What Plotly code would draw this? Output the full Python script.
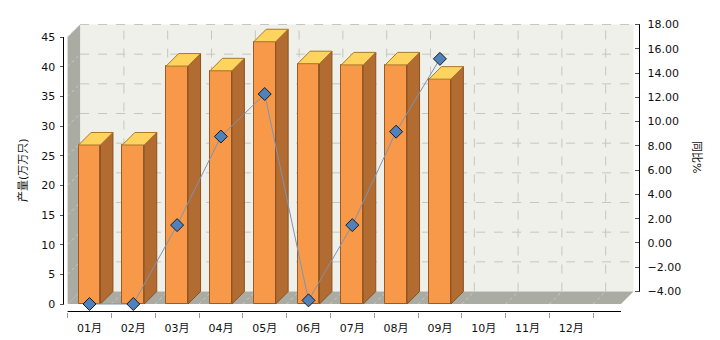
import plotly.graph_objects as go

# ---- data ----
months = ["01月", "02月", "03月", "04月", "05月", "06月", "07月", "08月", "09月", "10月", "11月", "12月"]
output_vals = [26.8, 26.8, 40.1, 39.3, 44.2, 40.5, 40.3, 40.3, 37.9]          # 产量(万万只)
yoy_vals = [-4.0, -4.0, 2.5, 9.8, 13.3, -3.7, 2.5, 10.2, 16.2]                # 同比%
left_ticks = [0, 5, 10, 15, 20, 25, 30, 35, 40, 45]
right_ticks = [-4, -2, 0, 2, 4, 6, 8, 10, 12, 14, 16, 18]

W, H = 720, 340
# pixel geometry of the front plane
X0, SX = 89.5, 43.8           # px of category 0 centre, px per category
Y0, SY = 304.0, 267.0 / 45    # px of value 0, px per left unit
D = 12.5                      # 3D depth in px
DX, DY = D / SX, D / SY
XE = (621 - X0) / SX          # front right edge of floor
L_MAX = 45
R_MIN, R_MAX = -4, 18
RS = (L_MAX * SY) / (R_MAX - R_MIN)   # px per right unit

xr = [(0 - X0) / SX, (W - X0) / SX]
yr = [(Y0 - H) / SY, Y0 / SY]
# right axis drawn on the back plane
yb0 = Y0 - D
y2r = [R_MIN - (H - yb0) / RS, R_MIN + yb0 / RS]
# line values plotted on the front plane
y3r = [R_MIN - (H - Y0) / RS, R_MIN + Y0 / RS]

FONT = "DejaVu Sans, Verdana, Noto Sans CJK SC, sans-serif"
n = len(output_vals)
xs = list(range(n))
BW = 0.25

fig = go.Figure()

# front faces
fig.add_trace(go.Bar(x=xs, y=output_vals, width=2 * BW, xaxis="x", yaxis="y",
                     marker=dict(color="#F8994A", line=dict(color="#9C5B22", width=1)),
                     hoverinfo="skip", showlegend=False))
# side and top faces
sx, sy = [], []
tx, ty = [], []
for i, v in zip(xs, output_vals):
    sx += [i + BW, i + BW + DX, i + BW + DX, i + BW, i + BW, None]
    sy += [0, DY, v + DY, v, 0, None]
    tx += [i - BW, i + BW, i + BW + DX, i - BW + DX, i - BW, None]
    ty += [v, v, v + DY, v + DY, v, None]
fig.add_trace(go.Scatter(x=sx, y=sy, mode="lines", fill="toself", fillcolor="#B26B30",
                         line=dict(color="#8A5120", width=1), hoverinfo="skip", showlegend=False))
fig.add_trace(go.Scatter(x=tx, y=ty, mode="lines", fill="toself", fillcolor="#FFD45E",
                         line=dict(color="#A8782A", width=1), hoverinfo="skip", showlegend=False))
# yoy line
fig.add_trace(go.Scatter(x=xs, y=yoy_vals, xaxis="x", yaxis="y3", mode="lines+markers",
                         line=dict(color="#7B93B8", width=1),
                         marker=dict(symbol="diamond", size=10, color="#4F81BD",
                                     line=dict(color="#1A1A1A", width=1)),
                         hoverinfo="skip", showlegend=False))
# dummy traces to anchor helper axes
fig.add_trace(go.Scatter(x=[0], y=[0], xaxis="x2", yaxis="y", mode="markers",
                         marker=dict(opacity=0), hoverinfo="skip", showlegend=False))
fig.add_trace(go.Scatter(x=[0], y=[0], xaxis="x", yaxis="y2", mode="markers",
                         marker=dict(opacity=0), hoverinfo="skip", showlegend=False))

shapes = []
WALL = "#AAACA4"
GRID = "#C6C6BF"
# back wall
shapes.append(dict(type="rect", xref="x", yref="y", x0=-0.5 + DX, x1=XE + DX, y0=DY, y1=L_MAX + DY,
                   fillcolor="#F0F0EA", line=dict(width=0), layer="below"))
# left wall
shapes.append(dict(type="path", xref="x", yref="y",
                   path=f"M{-0.5},0 L{-0.5 + DX},{DY} L{-0.5 + DX},{L_MAX + DY} L{-0.5},{L_MAX} Z",
                   fillcolor=WALL, line=dict(width=0), layer="below"))
# floor
shapes.append(dict(type="path", xref="x", yref="y",
                   path=f"M{-0.5},0 L{XE},0 L{XE + DX},{DY} L{-0.5 + DX},{DY} Z",
                   fillcolor=WALL, line=dict(width=0), layer="below"))
# horizontal grid on back wall + slants on left wall
for t in left_ticks[1:]:
    shapes.append(dict(type="line", xref="x", yref="y", x0=-0.5 + DX, x1=XE + DX, y0=t + DY, y1=t + DY,
                       line=dict(color=GRID, width=1, dash="dash"), layer="below"))
    shapes.append(dict(type="line", xref="x", yref="y", x0=-0.5, x1=-0.5 + DX, y0=t, y1=t + DY,
                       line=dict(color="#C9CAC4", width=1, dash="dot"), layer="below"))
# vertical grid on back wall + slants on floor
for i in range(1, len(months) + 1):
    b = i - 0.5
    shapes.append(dict(type="line", xref="x", yref="y", x0=b + DX, x1=b + DX, y0=DY, y1=L_MAX + DY,
                       line=dict(color=GRID, width=1, dash="dash"), layer="below"))
    shapes.append(dict(type="line", xref="x", yref="y", x0=b, x1=b + DX, y0=0, y1=DY,
                       line=dict(color="#CBCCC6", width=1, dash="dot"), layer="below"))
# axis lines
shapes.append(dict(type="line", xref="paper", yref="y", x0=63.5 / W, x1=63.5 / W, y0=0, y1=L_MAX,
                   line=dict(color="#000000", width=1)))
shapes.append(dict(type="line", xref="paper", yref="y2", x0=639.5 / W, x1=639.5 / W, y0=R_MIN, y1=R_MAX,
                   line=dict(color="#000000", width=1)))
shapes.append(dict(type="line", xref="x", yref="paper", x0=-0.5, x1=XE, y0=1 - 311.5 / H, y1=1 - 311.5 / H,
                   line=dict(color="#000000", width=1)))

tickfont = dict(family=FONT, size=11, color="#111111")
fig.update_layout(
    width=W, height=H, autosize=False,
    margin=dict(l=0, r=0, t=0, b=0, pad=0),
    paper_bgcolor="#FFFFFF", plot_bgcolor="#FFFFFF",
    showlegend=False, bargap=0,
    shapes=shapes,
    xaxis=dict(domain=[0, 1], range=xr, anchor="free", position=1 - 311.5 / H,
               tickvals=list(range(len(months))), ticktext=months, tickfont=tickfont,
               ticks="outside", ticklen=6, tickcolor="rgba(0,0,0,0)",
               showgrid=False, zeroline=False, showline=False, automargin=False, fixedrange=True),
    xaxis2=dict(overlaying="x", range=xr, anchor="free", position=1 - 311.5 / H,
                tickvals=[i - 0.5 for i in range(len(months) + 1)], showticklabels=False,
                ticks="outside", ticklen=5, tickcolor="#9A9A9A",
                showgrid=False, zeroline=False, showline=False, automargin=False, fixedrange=True),
    yaxis=dict(domain=[0, 1], range=yr, anchor="free", position=63.5 / W,
               tickvals=left_ticks, tickfont=tickfont, ticks="outside", ticklen=4, tickcolor="#555555",
               ticklabelstandoff=2,
               showgrid=False, zeroline=False, showline=False, automargin=False, fixedrange=True),
    yaxis2=dict(overlaying="y", side="right", range=y2r, anchor="free", position=639.5 / W,
                tickvals=right_ticks, tickformat=".2f", tickfont=tickfont,
                ticks="inside", ticklen=5, tickcolor="#555555", ticklabelstandoff=7,
                showgrid=False, zeroline=False, showline=False, automargin=False, fixedrange=True),
    yaxis3=dict(overlaying="y", range=y3r, visible=False, fixedrange=True),
    annotations=[
        dict(text="产量(万万只)", xref="paper", yref="paper", x=23 / W, y=1 - 170 / H,
             xanchor="center", yanchor="middle",
             showarrow=False, textangle=-90, font=dict(family=FONT, size=11, color="#111111")),
        dict(text="同比%", xref="paper", yref="paper", x=697 / W, y=1 - 157 / H,
             xanchor="center", yanchor="middle",
             showarrow=False, textangle=90, font=dict(family=FONT, size=11, color="#111111")),
    ],
)

fig.write_html("out.html")
